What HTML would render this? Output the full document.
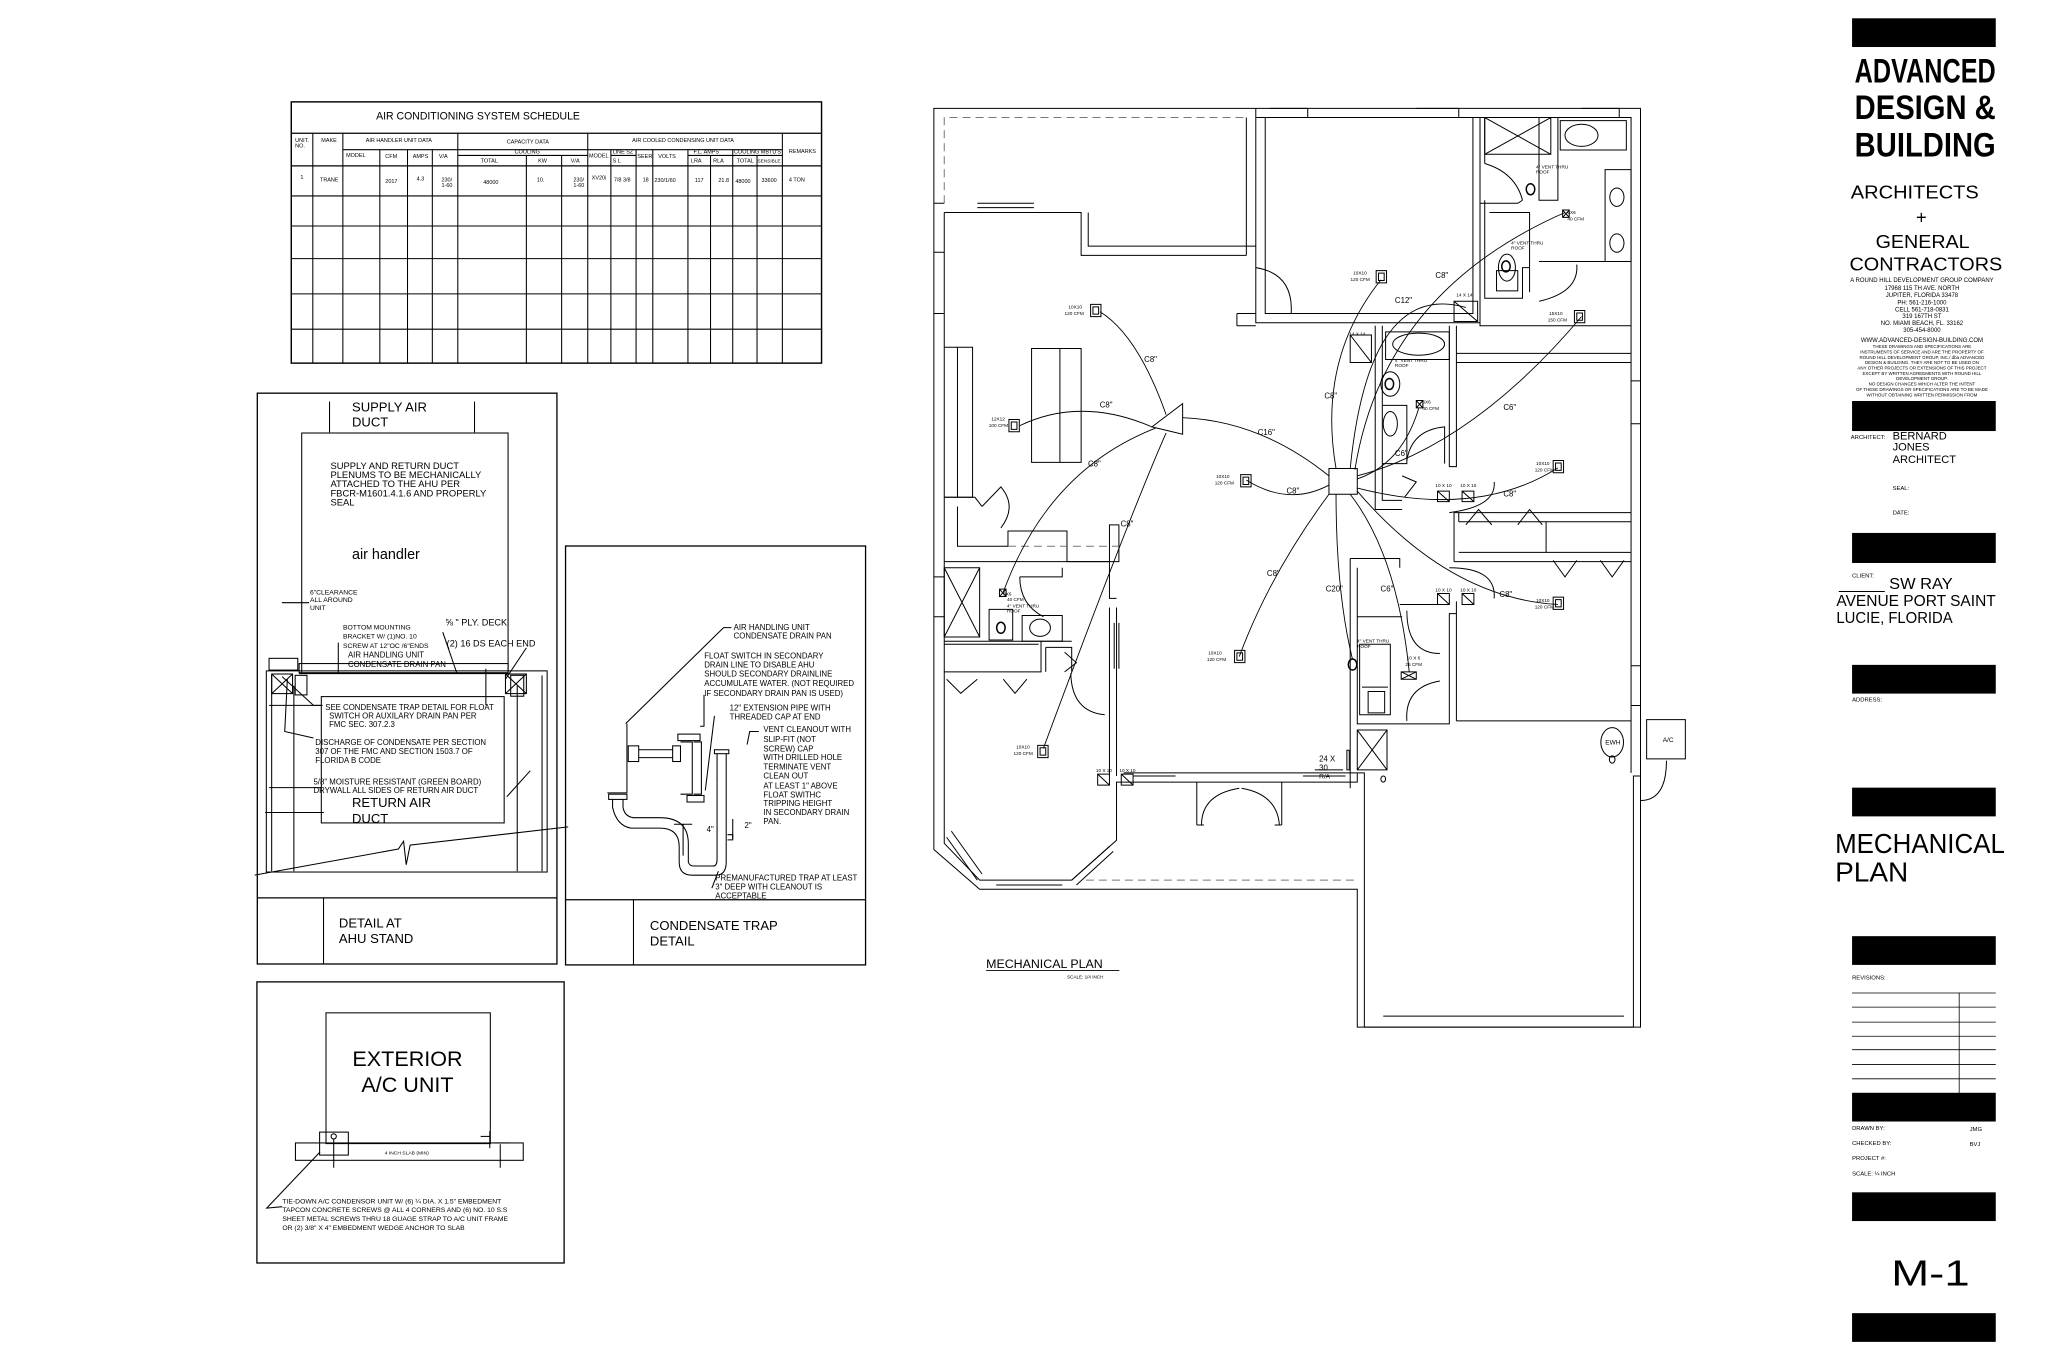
<!DOCTYPE html>
<html><head><meta charset="utf-8"><style>
html,body{margin:0;padding:0;background:#fff;}
svg{display:block;}
text{font-family:"Liberation Sans",Arial,sans-serif;fill:#000;}
.p *{vector-effect:non-scaling-stroke;}
</style></head><body>
<svg width="2048" height="1365" viewBox="0 0 1568 1045" preserveAspectRatio="none" xmlns="http://www.w3.org/2000/svg">
<rect width="1568" height="1045" fill="#fff"/>

<!-- ===== SCHEDULE ===== -->
<g stroke="#000" stroke-width="0.8" fill="none">
<rect x="223" y="78" width="406" height="200" stroke-width="1.1"/>
<line x1="223" y1="102" x2="629" y2="102" stroke-width="1"/>
<line x1="223" y1="127" x2="629" y2="127" stroke-width="1"/>
<line x1="223" y1="150" x2="629" y2="150"/>
<line x1="223" y1="173" x2="629" y2="173"/>
<line x1="223" y1="198" x2="629" y2="198"/>
<line x1="223" y1="225" x2="629" y2="225"/>
<line x1="223" y1="252" x2="629" y2="252"/>
<g>
<line x1="239.5" y1="102" x2="239.5" y2="278"/><line x1="262.5" y1="102" x2="262.5" y2="278"/>
<line x1="290.8" y1="114.6" x2="290.8" y2="278"/><line x1="312" y1="114.6" x2="312" y2="278"/>
<line x1="331" y1="114.6" x2="331" y2="278"/><line x1="350.5" y1="102" x2="350.5" y2="278"/>
<line x1="403" y1="119" x2="403" y2="278"/><line x1="430" y1="119" x2="430" y2="278"/>
<line x1="450" y1="102" x2="450" y2="278"/><line x1="467.7" y1="114.6" x2="467.7" y2="278"/>
<line x1="487" y1="114.6" x2="487" y2="278"/><line x1="499.8" y1="114.6" x2="499.8" y2="278"/>
<line x1="526.7" y1="114.6" x2="526.7" y2="278"/><line x1="544" y1="119" x2="544" y2="278"/>
<line x1="561" y1="114.6" x2="561" y2="278"/><line x1="579.6" y1="119" x2="579.6" y2="278"/>
<line x1="599" y1="102" x2="599" y2="278"/>
<line x1="262.5" y1="114.6" x2="599" y2="114.6"/>
<line x1="350.5" y1="119" x2="450" y2="119"/>
<line x1="467.7" y1="119" x2="487" y2="119"/>
<line x1="526.7" y1="119" x2="599" y2="119"/>
</g>
</g>
<g font-size="4.2">
<text x="288" y="91.5" font-size="8.2" textLength="156" lengthAdjust="spacingAndGlyphs">AIR CONDITIONING SYSTEM SCHEDULE</text>
<text x="226" y="108.8">UNIT.</text><text x="226" y="113">NO.</text>
<text x="246" y="108.8">MAKE</text>
<text x="280" y="108.8">AIR HANDLER UNIT DATA</text>
<text x="388" y="110">CAPACITY DATA</text>
<text x="484" y="108.8">AIR COOLED CONDENSING UNIT DATA</text>
<text x="604" y="117">REMARKS</text>
<text x="265" y="120.3">MODEL</text><text x="295" y="121">CFM</text><text x="316" y="121">AMPS</text><text x="336" y="121">V/A</text>
<text x="394" y="117.5">COOLING</text>
<text x="368" y="124.5">TOTAL</text><text x="412" y="124.5">KW</text><text x="437" y="124.5">V/A</text>
<text x="451" y="120.5">MODEL</text><text x="469" y="117.5">LINE SZ</text><text x="469" y="124.5">S   L</text>
<text x="488" y="121">SEER</text><text x="504" y="121">VOLTS</text>
<text x="531" y="117.5">F.L. AMPS</text><text x="529" y="124.5">LRA</text><text x="546" y="124.5">RLA</text>
<text x="562" y="117.5">COOLING MBTU'S</text><text x="564" y="124.5">TOTAL</text><text x="580" y="124.5" font-size="3.6">SENSIBLE</text>
<text x="230" y="137">1</text><text x="245" y="139">TRANE</text><text x="295" y="140">2017</text><text x="319" y="138">4.3</text>
<text x="338" y="139">230/</text><text x="338" y="143">1-60</text><text x="370" y="141">48000</text><text x="411" y="139">10.</text>
<text x="439" y="139">230/</text><text x="439" y="143">1-60</text><text x="453" y="137.5">XV20i</text>
<text x="470" y="139">7/8 3/8</text><text x="492" y="139">18</text><text x="501" y="139.5">230/1/60</text>
<text x="532" y="139.5">117</text><text x="550" y="139.5">21.8</text><text x="563" y="140">48000</text><text x="583" y="139.5">33600</text><text x="604" y="139">4 TON</text>
</g>

<!-- ===== AHU DETAIL ===== -->
<g stroke="#000" stroke-width="0.8" fill="none">
<rect x="197" y="301" width="229.4" height="437" stroke-width="1"/>
<line x1="197" y1="687.4" x2="426.4" y2="687.4" stroke-width="1"/>
<line x1="247.7" y1="687.4" x2="247.7" y2="738"/>
<line x1="252.3" y1="307.4" x2="252.3" y2="331"/><line x1="363.3" y1="307.4" x2="363.3" y2="331"/>
<rect x="231" y="331.5" width="158" height="184"/>
<line x1="215.8" y1="461.4" x2="236.7" y2="461.4"/>
<rect x="203.9" y="513.6" width="215" height="154"/>
<line x1="208" y1="517" x2="208" y2="667"/><line x1="415" y1="517" x2="415" y2="667"/>
<line x1="225" y1="525" x2="225" y2="667"/><line x1="396" y1="525" x2="396" y2="667"/>
<rect x="246" y="533.3" width="140" height="96.7"/>
<rect x="206" y="504" width="22" height="9"/><rect x="229" y="508" width="160" height="7"/>
<rect x="208" y="516" width="16" height="15"/><path d="M208 516 L224 531 M224 516 L208 531"/>
<rect x="387" y="516" width="16" height="15"/><path d="M387 516 L403 531 M403 516 L387 531"/>
<rect x="226" y="517" width="9" height="15"/><rect x="391" y="517" width="10" height="16"/>
<line x1="229" y1="515.5" x2="389" y2="515.5" stroke-width="1.2"/>
<line x1="259" y1="492" x2="259" y2="515"/><line x1="372" y1="512" x2="372" y2="540"/>
<path d="M339 484 L350 516"/><path d="M403 496 L387 520"/>
<path d="M195 670 L305 650 L309 644 L311 662 L314 647 L435 633"/>
<line x1="206" y1="540" x2="246" y2="540"/><line x1="206" y1="603" x2="246" y2="603"/><line x1="203" y1="622" x2="248" y2="622"/>
<path d="M216 518 L240 540 L247 540"/><path d="M220 520 L218 560 L240 565"/>
<path d="M388 610 L406 590"/>
</g>
<g>
<text x="269.5" y="315" font-size="10">SUPPLY AIR</text>
<text x="269.5" y="326.5" font-size="10">DUCT</text>
<g font-size="7.2">
<text x="253" y="359">SUPPLY AND RETURN DUCT</text>
<text x="253" y="366">PLENUMS TO BE MECHANICALLY</text>
<text x="253" y="373">ATTACHED TO THE AHU PER</text>
<text x="253" y="380">FBCR-M1601.4.1.6 AND PROPERLY</text>
<text x="253" y="387">SEAL</text>
</g>
<text x="269.5" y="428" font-size="11">air handler</text>
<g font-size="5.2">
<text x="237.3" y="455">6"CLEARANCE</text><text x="237.3" y="461">ALL AROUND</text><text x="237.3" y="467">UNIT</text>
<text x="262.6" y="482">BOTTOM MOUNTING</text><text x="262.6" y="489">BRACKET W/ (1)NO. 10</text><text x="262.6" y="496">SCREW AT 12"OC /6"ENDS</text>
<text x="266.4" y="503.5" font-size="6">AIR HANDLING UNIT</text><text x="266.4" y="510.5" font-size="6">CONDENSATE DRAIN PAN</text>
<text x="249" y="543.5" font-size="6">SEE CONDENSATE TRAP DETAIL FOR FLOAT</text>
<text x="252" y="550" font-size="6">SWITCH OR AUXILARY DRAIN PAN PER</text>
<text x="252" y="556.5" font-size="6">FMC SEC. 307.2.3</text>
<text x="241.4" y="570.5" font-size="6">DISCHARGE OF CONDENSATE PER SECTION</text>
<text x="241.4" y="577.3" font-size="6">307 OF THE FMC AND SECTION 1503.7  OF</text>
<text x="241.4" y="584.3" font-size="6">FLORIDA B CODE</text>
<text x="240" y="600.5" font-size="6">5/8" MOISTURE RESISTANT (GREEN BOARD)</text>
<text x="240" y="607" font-size="6">DRYWALL ALL SIDES OF RETURN AIR DUCT</text>
</g>
<text x="341" y="479" font-size="7">⅝ " PLY. DECK</text>
<text x="342" y="495" font-size="7">(2) 16 DS EACH END</text>
<text x="269.5" y="618" font-size="10">RETURN AIR</text>
<text x="269.5" y="630" font-size="10">DUCT</text>
<text x="259.5" y="710" font-size="10">DETAIL AT</text>
<text x="259.5" y="722" font-size="10">AHU STAND</text>
</g>

<!-- ===== CONDENSATE TRAP ===== -->
<g stroke="#000" stroke-width="0.8" fill="none">
<rect x="433" y="418" width="229.7" height="320.7" stroke-width="1"/>
<line x1="433" y1="688.8" x2="662.7" y2="688.8" stroke-width="1"/>
<line x1="485" y1="688.8" x2="485" y2="738.7"/>
<path d="M479 554 L554 480.5 L560 480.5"/>
<line x1="480" y1="554" x2="480" y2="607"/>
<line x1="465" y1="607" x2="480" y2="607"/>
<rect x="481" y="571" width="8" height="12"/>
<path d="M489 574 L515 574 M489 580 L515 580"/>
<rect x="515" y="571" width="6" height="12"/>
<path d="M521 568 L530 568 L530 608 L521 608 M531 568 L537 568 L537 608 L531 608"/>
<rect x="519" y="562" width="17" height="5"/><rect x="526" y="609" width="13" height="5"/>
<path d="M539 532 L539 556 L536 556"/><path d="M547 548 L540 605"/>
<path d="M469 612 L469 618 Q472 632 483 634 L505 634 Q520 634 520 648 L520 660 Q520 670 530 670 L548 670 Q556 670 556 660 L556 650"/>
<path d="M477 612 L477 618 Q478 625 485 626 L505 626 Q527 626 527 646 L527 660 Q528 663 531 663 L546 663 Q549 663 549 658 L549 600"/>
<path d="M556 650 L556 600 M549 600 L549 577 M556 600 L556 577"/>
<rect x="547" y="574" width="11" height="3"/>
<rect x="466" y="608" width="14" height="4"/>
<path d="M523 631 L523 655 M516 631 L530 631"/>
<path d="M561 627 L561 642"/>
<path d="M557 639 L561 639 L561 643 L557 643"/>
<path d="M581 560 L574 560 L572 570"/>
<path d="M550 667 L545 680"/>
</g>
<g font-size="6">
<text x="561.7" y="482.5">AIR HANDLING UNIT</text><text x="561.7" y="489">CONDENSATE DRAIN PAN</text>
<text x="539.2" y="504">FLOAT SWITCH IN SECONDARY</text>
<text x="539.2" y="511">DRAIN LINE TO DISABLE  AHU</text>
<text x="539.2" y="518">SHOULD SECONDARY DRAINLINE</text>
<text x="539.2" y="525.3">ACCUMULATE WATER. (NOT REQUIRED</text>
<text x="539.2" y="533">IF SECONDARY DRAIN PAN IS USED)</text>
<text x="558.6" y="544">12"  EXTENSION PIPE WITH</text>
<text x="558.6" y="551">THREADED CAP AT END</text>
<text x="584.5" y="560.5">VENT CLEANOUT WITH</text>
<text x="584.5" y="568">SLIP-FIT (NOT</text>
<text x="584.5" y="575.5">SCREW) CAP</text>
<text x="584.5" y="582">WITH DRILLED HOLE</text>
<text x="584.5" y="589">TERMINATE VENT</text>
<text x="584.5" y="596">CLEAN OUT</text>
<text x="584.5" y="603.5">AT LEAST 1" ABOVE</text>
<text x="584.5" y="610.5">FLOAT SWITHC</text>
<text x="584.5" y="617">TRIPPING HEIGHT</text>
<text x="584.5" y="624">IN SECONDARY DRAIN</text>
<text x="584.5" y="631">PAN.</text>
<text x="547.6" y="674">PREMANUFACTURED TRAP AT LEAST</text>
<text x="547.6" y="681">3" DEEP WITH CLEANOUT IS</text>
<text x="547.6" y="688">ACCEPTABLE</text>
<text x="541" y="637">4"</text><text x="570" y="634">2"</text>
<text x="497.6" y="712" font-size="10">CONDENSATE TRAP</text>
<text x="497.6" y="724" font-size="10">DETAIL</text>
</g>

<!-- ===== EXTERIOR A/C ===== -->
<g stroke="#000" stroke-width="0.8" fill="none">
<rect x="196.7" y="751.7" width="235.2" height="215.2" stroke-width="1"/>
<rect x="249.6" y="775.4" width="125.8" height="100.1"/>
<rect x="226.2" y="875" width="174.4" height="13.3"/>
<rect x="244.7" y="866.7" width="22" height="17.6"/>
<circle cx="255.5" cy="870" r="2"/>
<line x1="255.5" y1="872" x2="255.5" y2="894"/>
<line x1="375" y1="866" x2="375" y2="879"/><line x1="368" y1="870" x2="375" y2="870"/>
<line x1="383" y1="876" x2="383" y2="894"/><line x1="378" y1="875" x2="390" y2="875"/>
<path d="M216 923.8 L204.2 924.9 L245 881.9"/>
</g>
<text x="312" y="816.2" font-size="16.5" fill="#222" text-anchor="middle">EXTERIOR</text>
<text x="312" y="836" font-size="16.5" fill="#222" text-anchor="middle">A/C UNIT</text>
<text x="311.4" y="884" font-size="3.8" text-anchor="middle">4 INCH SLAB (MIN)</text>
<g font-size="5.2">
<text x="216.2" y="921.4">TIE-DOWN A/C CONDENSOR UNIT W/ (6) ¼ DIA. X 1.5" EMBEDMENT</text>
<text x="216.2" y="928">TAPCON CONCRETE SCREWS @ ALL 4 CORNERS AND (6) NO. 10 S.S</text>
<text x="216.2" y="934.7">SHEET METAL SCREWS THRU 18 GUAGE STRAP TO A/C UNIT FRAME</text>
<text x="216.2" y="941.8">OR (2) 3/8" X 4" EMBEDMENT WEDGE ANCHOR TO SLAB</text>
</g>

<!-- ===== FLOOR PLAN (zoom coords) ===== -->
<g class="p" transform="translate(712.1,68.9) scale(0.3614,0.4689)" stroke="#000" stroke-width="1" fill="none">
<path d="M8 30 L1505 30 L1505 1530 L905 1530 L905 1305 L105 1305 L8 1240 Z"/>
<path d="M690 45 L1485 45 L1485 1115 M30 200 L30 1230 L105 1290 L300 1290 L395 1225 L395 1130 L410 1130"/>
<path d="M30 185 L30 45 L670 45" stroke="#777" stroke-dasharray="8 5"/>
<path d="M8 185 L30 185 M30 200 L320 200 L320 270 L670 270 M335 200 L335 255 L690 255 L690 30 M670 270 L670 45"/>
<path d="M330 1290 L905 1290" stroke="#777" stroke-dasharray="8 5"/>
<path d="M410 1115 L905 1115 L905 1130 L410 1130 M905 1115 L920 1115 L920 1530 L1490 1530 M1490 1530 L1490 1120 L1505 1120"/>
<path d="M100 185 L220 185 M100 192 L220 192 M720 30 L800 30 L800 45 L720 45 M1030 30 L1120 30 L1120 45 L1030 45 M1380 30 L1460 30 L1460 45 L1380 45 M8 265 L30 265 M8 365 L30 365 M8 795 L30 795 M8 860 L30 860 M1485 475 L1505 475 M1485 545 L1505 545 M1485 940 L1505 940 M1485 1005 L1505 1005 M430 1120 L520 1120 M790 1120 L880 1120 M140 1298 L280 1298 M960 1512 L1470 1512"/>
<path d="M35 1220 L100 1290 M45 1210 L110 1280 M300 1290 L380 1235 M310 1298 L388 1243"/>
<path d="M690 255 L690 380 L1165 380 L1165 45 M710 45 L710 365 L1150 365 L1150 45"/>
<path d="M650 365 L690 365 M650 385 L690 385 M650 365 L650 385"/>
<path d="M690 290 Q770 300 765 365"/>
<path d="M1165 45 L1165 385 L1485 385 M1175 45 L1175 120 M1175 180 L1175 340 L1255 340 L1255 290 L1270 290 M1165 185 L1245 185 L1255 180 M1185 200 L1270 200 L1270 330 M1290 45 L1290 180 L1330 180 L1330 45 M1290 280 L1485 280"/>
<path d="M1175 45 L1315 45 L1315 105 L1175 105 Z M1175 45 L1315 105 M1315 45 L1175 105"/>
<path d="M1335 50 L1475 50 L1475 98 L1335 98 Z"/><ellipse cx="1380" cy="74" rx="35" ry="18"/>
<path d="M1430 130 L1485 130 L1485 280 L1430 280 Z"/><circle cx="1455" cy="175" r="15"/><circle cx="1455" cy="250" r="15"/>
<path d="M1175 120 Q1240 135 1255 180"/><path d="M1290 345 Q1375 330 1370 285"/>
<path d="M1200 295 L1245 295 L1245 328 L1200 328 Z"/><ellipse cx="1222" cy="290" rx="18" ry="22"/>
<path d="M943 385 L943 685 L1000 685 M958 385 L958 670 L1000 670 M1100 385 L1100 615 L1115 615 L1115 385 M1115 445 L1485 445 M1115 430 L1485 430"/>
<path d="M965 395 L1100 395 L1100 440 L965 440 Z"/><ellipse cx="1035" cy="415" rx="55" ry="18"/>
<path d="M958 515 L1010 515 L1010 610 L958 610"/><ellipse cx="975" cy="545" rx="15" ry="20"/>
<ellipse cx="975" cy="480" rx="20" ry="20"/>
<path d="M890 400 L935 400 L935 445 L890 445 Z M890 400 L935 445"/>
<path d="M1010 605 Q1020 555 1090 550 L1090 610"/><path d="M1000 630 L1030 640 L1005 665"/>
<path d="M1100 690 Q1200 680 1195 640"/>
<path d="M1110 690 L1485 690 M1110 770 L1485 770 M1120 705 L1485 705 M1120 755 L1485 755 M1110 690 L1110 770 M1305 705 L1305 755 M1120 690 L1120 705"/>
<path d="M1135 710 L1162 685 L1190 710 M1245 710 L1270 685 L1297 710 M1320 768 L1345 795 L1370 768 M1420 768 L1445 795 L1470 768"/>
<path d="M1115 1030 L1485 1030 M1115 835 L1115 1030 M1100 780 Q1200 780 1195 830"/>
<path d="M890 765 L890 1140 M890 765 L995 765 L995 780 M905 780 L905 1035 L1100 1035 L1100 855 L1115 855 M995 840 L1100 840 M905 860 L1000 860"/>
<path d="M910 905 L975 905 L975 1020 L910 1020 Z M915 975 L970 975"/>
<rect x="928" y="982" width="35" height="35"/>
<path d="M1010 850 Q1010 920 1080 920"/><path d="M1010 1030 Q1005 975 1080 965"/>
<path d="M905 1045 L968 1045 L968 1110 L905 1110 Z M905 1045 L968 1110 M968 1045 L905 1110"/>
<circle cx="960" cy="1125" r="5"/>
<path d="M883 1078 L888 1078 L888 1110 L883 1110 Z"/>
<path d="M1518 1028 L1600 1028 L1600 1092 L1518 1092 Z"/>
<circle cx="1445" cy="1065" r="24"/><circle cx="1445" cy="1093" r="6"/>
<path d="M1505 1160 Q1560 1160 1560 1095"/>
<path d="M30 420 L90 420 L90 665 L30 665 M58 420 L58 665"/>
<path d="M215 422 L320 422 L320 608 L215 608 Z M275 422 L275 608"/>
<path d="M30 665 L95 665 L110 680 M58 680 L58 745 L165 745 L165 720 L290 720 L290 770 L400 770 L400 710 L380 710 L380 830 L395 830"/>
<path d="M165 745 L400 745" stroke="#777" stroke-dasharray="8 5"/>
<path d="M110 680 L150 648 Q185 680 150 715"/>
<path d="M30 770 L380 770 M30 780 L105 780 L105 893 L30 893 Z M30 780 L105 893 M105 780 L30 893"/>
<path d="M280 780 L280 795 L190 795 M190 795 Q190 840 240 860"/>
<path d="M195 858 L280 858 L280 900 L195 900 Z"/><ellipse cx="233" cy="878" rx="22" ry="14"/>
<path d="M125 848 L175 848 L175 898 L125 898 Z"/>
<path d="M30 900 L300 900 M30 950 L235 950 L235 900 M30 905 L230 905 M245 910 L300 910 L300 950 M245 910 L245 950"/>
<path d="M35 962 L65 985 L100 962 M155 962 L180 985 L205 962"/>
<path d="M285 918 L310 935 L285 950"/>
<path d="M298 952 Q300 1015 370 1020"/>
<path d="M380 845 L380 1120 M395 845 L395 1120 M390 870 L390 945 M400 870 L400 945"/>
<path d="M565 1130 L565 1200 M745 1130 L745 1200 M565 1200 L580 1200 M730 1200 L745 1200 M575 1200 Q575 1150 655 1140 M740 1200 Q735 1150 660 1140"/>
<rect x="845" y="618" width="60" height="42"/>
<path d="M470 550 L535 512 L535 562 Z"/>
<g stroke-width="0.9">
<path d="M905 650 Q1160 700 1330 617"/>
<path d="M905 630 Q1150 580 1380 370"/>
<path d="M900 620 Q960 330 1345 200"/>
<path d="M890 618 Q930 310 1135 355"/>
<path d="M955 310 Q820 440 860 618"/>
<path d="M905 635 Q1000 610 1035 520"/>
<path d="M905 655 Q1100 830 1330 840"/>
<path d="M890 660 Q990 760 1015 950"/>
<path d="M860 660 Q860 820 895 930"/>
<path d="M845 660 Q720 790 655 925"/>
<path d="M845 645 Q760 680 670 637"/>
<path d="M845 630 Q700 540 535 535"/>
<path d="M500 530 Q440 400 360 362"/>
<path d="M470 550 Q320 500 190 548"/>
<path d="M478 552 Q250 620 155 820"/>
<path d="M500 560 Q420 700 240 1075"/>
</g>
<g>
<rect x="340" y="350" width="22" height="20"/><rect x="345" y="354" width="12" height="12"/>
<rect x="167" y="538" width="22" height="20"/><rect x="172" y="542" width="12" height="12"/>
<rect x="658" y="628" width="22" height="20"/><rect x="663" y="632" width="12" height="12"/>
<rect x="645" y="915" width="22" height="20"/><rect x="650" y="919" width="12" height="12"/>
<rect x="228" y="1070" width="22" height="20"/><rect x="233" y="1074" width="12" height="12"/>
<rect x="945" y="295" width="22" height="20"/><rect x="950" y="299" width="12" height="12"/>
<rect x="1365" y="360" width="22" height="20"/><rect x="1370" y="364" width="12" height="12"/>
<rect x="1320" y="605" width="22" height="20"/><rect x="1325" y="609" width="12" height="12"/>
<rect x="1320" y="828" width="22" height="20"/><rect x="1325" y="832" width="12" height="12"/>
<path d="M1340 196 L1354 196 L1354 208 L1340 208 Z M1340 196 L1354 208 M1354 196 L1340 208"/>
<path d="M1030 507 L1044 507 L1044 519 L1030 519 Z M1030 507 L1044 519 M1044 507 L1030 519"/>
<path d="M147 815 L161 815 L161 827 L147 827 Z M147 815 L161 827 M161 815 L147 827"/>
<path d="M1110 345 L1160 345 L1160 378 L1110 378 Z M1110 345 L1160 378"/>
<path d="M1075 655 L1100 655 L1100 672 L1075 672 Z M1075 655 L1100 672 M1127 655 L1152 655 L1152 672 L1127 672 Z M1127 655 L1152 672"/>
<path d="M1075 822 L1100 822 L1100 840 L1075 840 Z M1075 822 L1100 840 M1127 822 L1152 822 L1152 840 L1127 840 Z M1127 822 L1152 840"/>
<path d="M355 1117 L380 1117 L380 1135 L355 1135 Z M355 1117 L380 1135 M405 1117 L430 1117 L430 1135 L405 1135 Z M405 1117 L430 1135"/>
<path d="M998 950 L1030 950 L1030 962 L998 962 Z M998 950 L1030 962 M1030 950 L998 962"/>
<circle cx="1272" cy="162" r="9" stroke-width="1.5"/><circle cx="1220" cy="288" r="9" stroke-width="1.5"/>
<circle cx="973" cy="480" r="9" stroke-width="1.5"/><circle cx="150" cy="878" r="9" stroke-width="1.5"/>
<circle cx="895" cy="938" r="9" stroke-width="1.5"/>
<path d="M815 1110 L875 1110"/>
</g>
</g>

<g font-size="3.6">
<text x="818" y="236">10X10</text><text x="815" y="241">120 CFM</text>
<text x="759" y="322">12X12</text><text x="757" y="327">100 CFM</text>
<text x="931" y="366">10X10</text><text x="930" y="371">120 CFM</text>
<text x="925" y="501">10X10</text><text x="924" y="506">120 CFM</text>
<text x="778" y="573">10X10</text><text x="776" y="578">120 CFM</text>
<text x="1036" y="210">10X10</text><text x="1034" y="215">120 CFM</text>
<text x="1186" y="241">15X10</text><text x="1185" y="246">150 CFM</text>
<text x="1176" y="356">10X10</text><text x="1175" y="361">120 CFM</text>
<text x="1176" y="461">10X10</text><text x="1175" y="466">120 CFM</text>
<text x="1200" y="164">6X6</text><text x="1200" y="169">40 CFM</text>
<text x="1089" y="309">6X6</text><text x="1089" y="314">40 CFM</text>
<text x="768" y="456">6X6</text><text x="771" y="460">40 CFM</text>
<text x="1176" y="129">4" VENT THRU</text><text x="1176" y="133">ROOF</text>
<text x="1157" y="187">4" VENT THRU</text><text x="1157" y="191">ROOF</text>
<text x="1068" y="277">4" VENT THRU</text><text x="1068" y="281">ROOF</text>
<text x="771" y="465">4" VENT THRU</text><text x="771" y="469">ROOF</text>
<text x="1039" y="492">4" VENT THRU</text><text x="1039" y="496">ROOF</text>
<text x="1115" y="227">14 X 14</text><text x="1033" y="257">14 X 14</text>
<text x="1099" y="373">10 X 10</text><text x="1118" y="373">10 X 10</text>
<text x="1099" y="453">10 X 10</text><text x="1118" y="453">10 X 10</text>
<text x="839" y="591">10 X 10</text><text x="857" y="591">10 X 10</text>
<text x="1077" y="505">10 X 6</text><text x="1076" y="510">25 CFM</text>
</g>
<g font-size="6">
<text x="876" y="277">C8"</text><text x="842" y="312">C8"</text><text x="833" y="357">C8"</text>
<text x="858" y="403">C8"</text><text x="963" y="333">C16"</text><text x="985" y="378">C8"</text>
<text x="970" y="441">C8"</text><text x="1015" y="453">C20"</text><text x="1057" y="453">C6"</text>
<text x="1014" y="305">C8"</text><text x="1068" y="232">C12"</text><text x="1099" y="213">C8"</text>
<text x="1151" y="314">C6"</text><text x="1151" y="380">C8"</text><text x="1148" y="457">C8"</text>
<text x="1068" y="349">C6"</text>
<text x="1010" y="583">24 X</text><text x="1010" y="590">30</text><text x="1010" y="596" font-size="5">R/A</text>
<text x="1229" y="570" font-size="5">EWH</text>
<text x="1273" y="568" font-size="5">A/C</text>
</g>
<text x="755" y="741" font-size="9.5">MECHANICAL PLAN</text>
<line x1="755" y1="743" x2="857" y2="743" stroke="#000" stroke-width="0.7"/>
<text x="817" y="749" font-size="3.5">SCALE: 1/4 INCH</text>

<!-- ===== TITLE BLOCK ===== -->
<g fill="#000">
<rect x="1418" y="14" width="110" height="22"/>
<rect x="1418" y="307" width="110" height="23"/>
<rect x="1418" y="408" width="110" height="23"/>
<rect x="1418" y="509" width="110" height="22"/>
<rect x="1418" y="603" width="110" height="22"/>
<rect x="1418" y="716.7" width="110" height="22"/>
<rect x="1418" y="836.6" width="110" height="22"/>
<rect x="1418" y="912.8" width="110" height="22"/>
<rect x="1418" y="1005.3" width="110" height="22"/>
</g>
<g font-weight="bold" font-size="26">
<text x="1420" y="63" textLength="108" lengthAdjust="spacingAndGlyphs">ADVANCED</text>
<text x="1420" y="91" textLength="108" lengthAdjust="spacingAndGlyphs">DESIGN &amp;</text>
<text x="1420" y="120" textLength="108" lengthAdjust="spacingAndGlyphs">BUILDING</text>
</g>
<g fill="#666" font-size="14">
<text x="1417" y="152" textLength="98" lengthAdjust="spacingAndGlyphs">ARCHITECTS</text>
<text x="1471" y="171" text-anchor="middle">+</text>
<text x="1436" y="190" textLength="72" lengthAdjust="spacingAndGlyphs">GENERAL</text>
<text x="1416" y="207" textLength="117" lengthAdjust="spacingAndGlyphs">CONTRACTORS</text>
</g>
<g font-size="4.6" text-anchor="middle">
<text x="1471.5" y="216">A ROUND HILL DEVELOPMENT GROUP COMPANY</text>
<text x="1471.5" y="222">17968 115 TH AVE. NORTH</text>
<text x="1471.5" y="227.5">JUPITER, FLORIDA   33478</text>
<text x="1471.5" y="233">PH:  561-216-1000</text>
<text x="1471.5" y="238.5">CELL  561-718-0831</text>
<text x="1471.5" y="243.5">319  167TH ST</text>
<text x="1471.5" y="249">NO. MIAMI BEACH, FL. 33162</text>
<text x="1471.5" y="254">305-454-8000</text>
<text x="1471.5" y="262">WWW.ADVANCED-DESIGN-BUILDING.COM</text>
<g font-size="3.4">
<text x="1471.5" y="266.5">THESE DRAWINGS AND SPECIFICATIONS ARE</text>
<text x="1471.5" y="270.6">INSTRUMENTS OF SERVICE AND ARE THE PROPERTY OF</text>
<text x="1471.5" y="274.7">ROUND HILL DEVELOPMENT GROUP, INC./ dba ADVANCED</text>
<text x="1471.5" y="278.8">DESIGN &amp; BUILDING.  THEY ARE NOT TO BE USED ON</text>
<text x="1471.5" y="282.9">ANY OTHER PROJECTS OR EXTENSIONS OF THIS PROJECT</text>
<text x="1471.5" y="287">EXCEPT BY WRITTEN AGREEMENTS WITH ROUND HILL</text>
<text x="1471.5" y="291.1">DEVELOPMENT GROUP.</text>
<text x="1471.5" y="295.2">NO DESIGN CHANGES WHICH ALTER THE INTENT</text>
<text x="1471.5" y="299.3">OF THESE DRAWINGS OR SPECIFICATIONS ARE TO BE MADE</text>
<text x="1471.5" y="303.4">WITHOUT OBTAINING WRITTEN PERMISSION FROM</text>
</g>
</g>
<text x="1417" y="336" font-size="4.5">ARCHITECT:</text>
<g font-size="8.5">
<text x="1449" y="336.5" font-family="'Liberation Serif',serif">BERNARD</text>
<text x="1449" y="345" font-family="'Liberation Serif',serif">JONES</text>
<text x="1449" y="354.5" font-family="'Liberation Serif',serif">ARCHITECT</text>
</g>
<text x="1449" y="375" font-size="4.5">SEAL:</text>
<text x="1449" y="394" font-size="4.5">DATE:</text>
<text x="1418" y="442" font-size="4.5">CLIENT:</text>
<g fill="#555" font-size="12">
<text x="1408" y="451" textLength="87" lengthAdjust="spacingAndGlyphs">_____ SW RAY</text>
<text x="1406" y="464" textLength="122" lengthAdjust="spacingAndGlyphs">AVENUE PORT SAINT</text>
<text x="1406" y="477" textLength="89" lengthAdjust="spacingAndGlyphs">LUCIE, FLORIDA</text>
</g>
<text x="1418" y="537" font-size="4.5">ADDRESS:</text>
<g fill="#555" font-size="21">
<text x="1405" y="653" textLength="130" lengthAdjust="spacingAndGlyphs">MECHANICAL</text>
<text x="1405" y="675" textLength="56" lengthAdjust="spacingAndGlyphs">PLAN</text>
</g>
<text x="1418" y="750" font-size="4.5">REVISIONS:</text>
<g stroke="#000" stroke-width="0.6">
<line x1="1418" y1="760.2" x2="1528" y2="760.2"/><line x1="1418" y1="771" x2="1528" y2="771"/>
<line x1="1418" y1="782.5" x2="1528" y2="782.5"/><line x1="1418" y1="793.3" x2="1528" y2="793.3"/>
<line x1="1418" y1="803.6" x2="1528" y2="803.6"/><line x1="1418" y1="815" x2="1528" y2="815"/>
<line x1="1418" y1="825.9" x2="1528" y2="825.9"/><line x1="1500" y1="760" x2="1500" y2="837"/>
</g>
<g font-size="4.5">
<text x="1418" y="865">DRAWN BY:</text><text x="1508" y="866">JMG</text>
<text x="1418" y="876.5">CHECKED BY:</text><text x="1508" y="877.5">BVJ</text>
<text x="1418" y="888">PROJECT #:</text>
<text x="1418" y="900">SCALE: ¼ INCH</text>
</g>
<text x="1478" y="984" font-size="28" fill="#555" text-anchor="middle" textLength="60" lengthAdjust="spacingAndGlyphs">M-1</text>
</svg>
</body></html>
